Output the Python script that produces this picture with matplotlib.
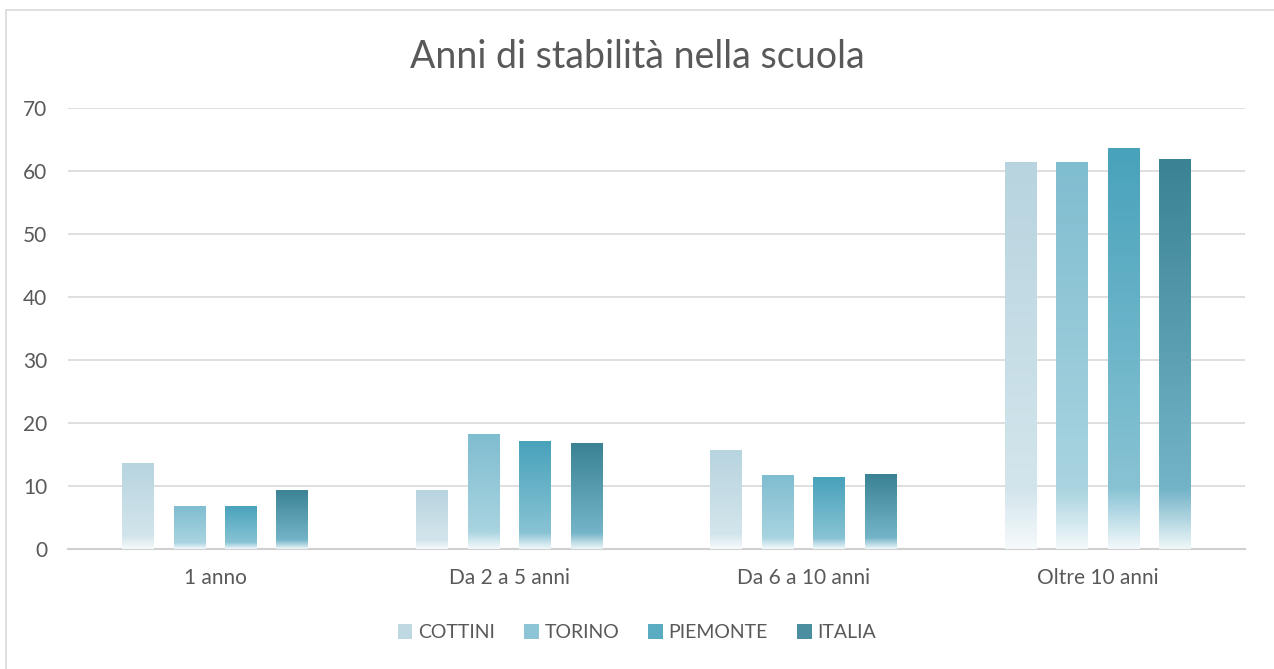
import numpy as np
import matplotlib
matplotlib.use("Agg")
import matplotlib.pyplot as plt
from matplotlib.colors import LinearSegmentedColormap
from matplotlib.patches import Patch, Rectangle

categories = ["1 anno", "Da 2 a 5 anni", "Da 6 a 10 anni", "Oltre 10 anni"]
series_names = ["COTTINI", "TORINO", "PIEMONTE", "ITALIA"]
cottini = [13.6, 9.4, 15.7, 61.4]
torino = [6.8, 18.2, 11.7, 61.5]
piemonte = [6.9, 17.1, 11.4, 63.6]
italia = [9.4, 16.8, 11.9, 61.9]
y_ticks = [0, 10, 20, 30, 40, 50, 60, 70]

# gradient stops per series: bottom (almost white), low part, top
grad_colors = [
    ["#f6fafc", "#d3e5ec", "#b7d4df"],
    ["#f4f9fb", "#a9d4e0", "#7fbdd0"],
    ["#f2f8fb", "#88c3d4", "#48a2bb"],
    ["#eef7f8", "#74b4c9", "#3a8294"],
]
legend_colors = ["#bfd9e3", "#8ec5d6", "#5aacc3", "#4a8ea0"]

plt.rcParams["font.family"] = ["Lato", "DejaVu Sans"]
text_col = "#595959"

fig = plt.figure(figsize=(12.74, 6.69), dpi=100)
ax = fig.add_axes([0.0534, 0.1794, 0.9238, 0.6592])

data = [cottini, torino, piemonte, italia]
x = np.arange(len(categories))
step = 0.175
width = 0.108

for i, vals in enumerate(data):
    c = grad_colors[i]
    cmap = LinearSegmentedColormap.from_list(
        "g%d" % i, [(0.0, c[0]), (0.15, c[1]), (1.0, c[2])])
    bars = ax.bar(x + (i - 1.5) * step, vals, width, color="none",
                  edgecolor="none", zorder=3)
    for b in bars:
        x0, y0 = b.get_x(), b.get_y()
        w, h = b.get_width(), b.get_height()
        grad = np.linspace(1, 0, 256).reshape(-1, 1)
        im = ax.imshow(grad, cmap=cmap, vmin=0, vmax=1, aspect="auto",
                       extent=[x0, x0 + w, y0, y0 + h], zorder=3,
                       interpolation="bilinear")
        im.set_clip_path(b)

ax.set_xlim(-0.5, len(categories) - 0.5)
ax.set_ylim(0, 70)
ax.set_yticks(y_ticks)
ax.set_xticks(x)
ax.set_xticklabels(categories)
ax.grid(axis="y", color="#d9d9d9", linewidth=1.2, zorder=0)
ax.set_axisbelow(True)
for s in ["top", "right", "left"]:
    ax.spines[s].set_visible(False)
ax.spines["bottom"].set_color("#d0d0d0")
ax.spines["bottom"].set_linewidth(1.5)
ax.tick_params(axis="both", length=0, labelsize=15, colors=text_col)
ax.tick_params(axis="y", pad=15)
ax.tick_params(axis="x", pad=14)

fig.text(0.5, 0.915, "Anni di stabilità nella scuola", ha="center",
         va="center", fontsize=27, color=text_col)

handles = [Patch(facecolor=legend_colors[i], edgecolor="none",
                 label=series_names[i]) for i in range(4)]
fig.legend(handles=handles, loc="center", bbox_to_anchor=(0.5, 0.054),
           ncol=4, frameon=False, fontsize=14, labelcolor=text_col,
           handlelength=0.75, handleheight=0.75, handletextpad=0.3,
           columnspacing=1.5)

fig.patches.append(Rectangle((6 / 1274, -0.05), 1.1, 1 - 10 / 669 + 0.05,
                             transform=fig.transFigure, fill=False,
                             edgecolor="#d9d9d9", linewidth=1.2))

fig.savefig("out.png", dpi=100)
